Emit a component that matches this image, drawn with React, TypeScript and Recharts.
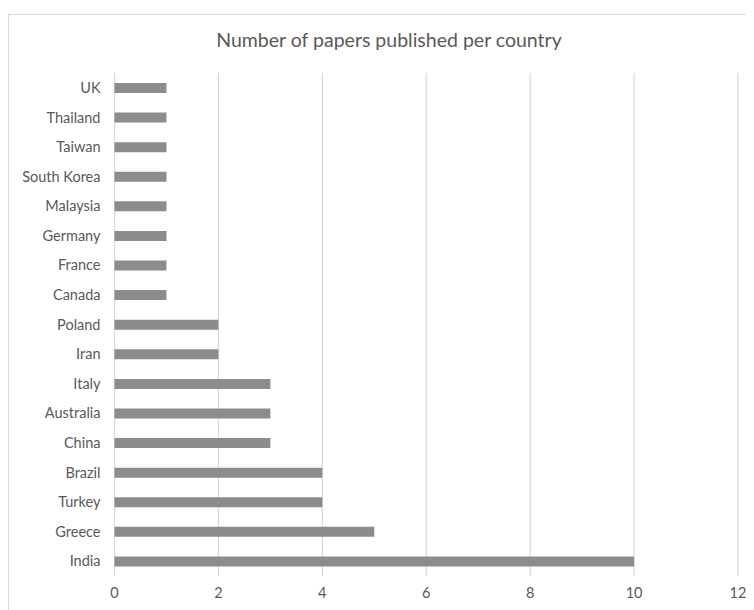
import { BarChart, Bar, XAxis, YAxis, CartesianGrid } from 'recharts';

const countries = [
  'UK', 'Thailand', 'Taiwan', 'South Korea', 'Malaysia', 'Germany', 'France', 'Canada',
  'Poland', 'Iran', 'Italy', 'Australia', 'China', 'Brazil', 'Turkey', 'Greece', 'India',
];
const papers = [1, 1, 1, 1, 1, 1, 1, 1, 2, 2, 3, 3, 3, 4, 4, 5, 10];
const xTicks = [0, 2, 4, 6, 8, 10, 12];

const data = countries.map((country, i) => ({ country, papers: papers[i] }));

const textColor = '#595959';
const gridColor = '#d9d9d9';
const font = 'Lato, "Open Sans", sans-serif';

export default function App() {
  return (
    <div style={{ position: 'relative', width: 746, height: 602, overflow: 'hidden', fontFamily: font }}>
      <div
        style={{
          position: 'absolute',
          left: 0,
          top: 6,
          width: 800,
          height: 700,
          border: `1px solid ${gridColor}`,
          boxSizing: 'border-box',
        }}
      />
      <div
        style={{
          position: 'absolute',
          left: 0,
          top: 20,
          width: 762,
          textAlign: 'center',
          fontSize: 19.5,
          color: textColor,
        }}
      >
        Number of papers published per country
      </div>
      <div style={{ position: 'absolute', left: 0, top: 0 }}>
        <BarChart
          width={746}
          height={602}
          data={data}
          layout="vertical"
          margin={{ top: 65, right: 16, left: 0, bottom: 4 }}
        >
          <CartesianGrid horizontal={false} stroke={gridColor} strokeWidth={1.2} />
          <XAxis
            type="number"
            domain={[0, 12]}
            ticks={xTicks}
            axisLine={false}
            tickLine={false}
            tickMargin={6}
            height={30}
            tick={{ fill: textColor, fontSize: 14.5, fontFamily: font }}
          />
          <YAxis
            type="category"
            dataKey="country"
            width={106.5}
            axisLine={false}
            tickLine={false}
            tickMargin={8}
            interval={0}
            tick={{ fill: textColor, fontSize: 14.5, fontFamily: font }}
          />
          <Bar dataKey="papers" fill="#8c8c8c" barSize={10} isAnimationActive={false} />
        </BarChart>
      </div>
    </div>
  );
}
